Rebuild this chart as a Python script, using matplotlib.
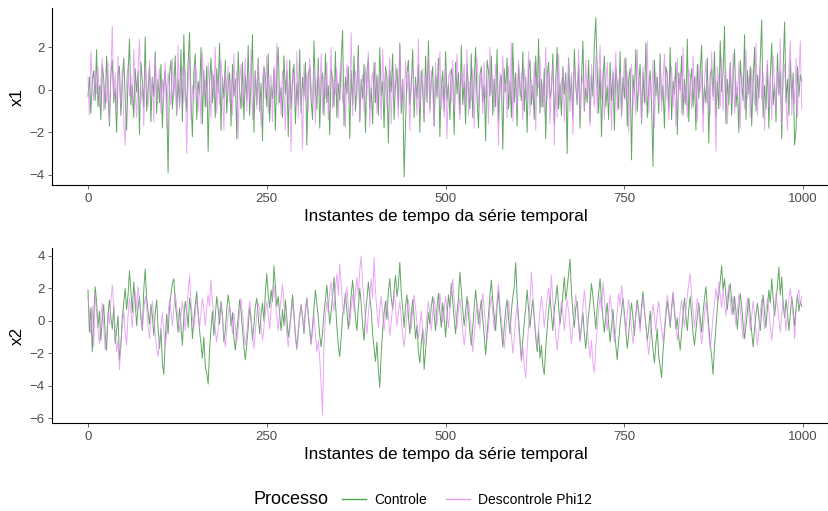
import numpy as np
import matplotlib.pyplot as plt
from matplotlib.lines import Line2D
from matplotlib.offsetbox import HPacker

plt.rcParams['font.family'] = ['Liberation Sans', 'DejaVu Sans']

# valores (um ponto a cada 2 instantes)
x1_controle = [
    -0.3, 0.6, -1.1, 0.4, 0.9, -0.5, 1.9, -0.8, 0.2, -1.4, 1.2, 0.5, -0.9, 1.6, -0.2, -1.7, 0.8, 1.4, -0.6, 0.1, -2.0, 0.7, 1.1, -1.2, 0.3,
    1.5, -0.4, -1.9, 0.6, 2.4, -0.7, 0.2, -1.3, 1.0, -0.1, 0.9, -2.1, 1.3, 0.4, -0.8, 2.5, -1.0, 0.0, 1.1, -1.5, 0.6, -0.3, 1.8, -1.1, 0.5,
    -0.6, 1.2, -1.8, 0.3, 0.9, -0.4, -3.9, 0.7, 1.4, -0.9, 0.2, 1.6, -1.2, 0.5, -0.7, 1.9, -1.5, 2.6, 0.1, -1.0, 1.3, 2.7, -0.5, -2.2, 0.8,
    1.7, -1.4, 0.4, -0.2, 2.0, -1.6, 0.9, -0.8, 1.1, -2.9, 0.3, 1.5, -0.6, 0.7, -1.3, 1.0, -0.1, 2.2, -1.9, 0.6, -0.4, 1.4, -1.1, 0.2, 0.8,
    -1.7, 1.2, -0.3, 0.5, -2.3, 1.8, 0.0, -0.9, 1.3, -1.4, 0.7, -0.5, 2.1, -1.2, 0.4, 2.6, -2.0, 0.9, -0.7, 1.5, -1.0, 0.3, -2.4, 1.1, 0.6,
    -0.8, 1.7, -1.5, 0.2, -0.4, 1.0, -1.9, 0.8, 2.0, -0.6, 0.1, -1.3, 1.6, -0.2, 0.9, -2.2, 1.4, -0.9, 0.5, 1.2, -1.6, 0.3, -0.7, 1.9, -1.1,
    0.6, -0.3, 1.3, -2.6, 0.7, 1.1, -0.5, -1.4, 2.3, 0.0, -0.9, 1.5, -1.8, 0.4, 0.8, -1.2, 1.7, -0.6, 0.2, -2.1, 1.0, 0.5, -0.8, 1.8, -1.3,
    0.3, -0.5, 1.4, 2.8, -1.7, 0.6, -0.2, 1.1, -2.3, 0.9, -0.7, 1.6, -1.0, 0.2, 2.1, -1.5, 0.5, -0.4, 1.2, -2.0, 0.8, 1.5, -0.9, 0.1, -1.6,
    1.3, -0.6, 0.7, -1.2, 2.0, -0.3, 0.4, -1.8, 1.1, 0.6, -2.5, 0.9, -0.1, 1.7, -1.4, 0.3, 1.0, -0.8, 2.2, -1.1, 0.5, -4.1, -1.6, 0.8, 1.4,
    -0.7, 0.2, 1.9, -1.3, 0.6, -0.4, 1.2, -2.0, 0.9, 0.0, -1.5, 1.6, -0.6, 2.3, -0.9, 0.4, 1.1, -1.7, 0.7, -0.3, 1.5, -2.2, 0.1, 0.9, -1.0,
    1.8, -0.5, 0.3, -1.4, 1.0, 0.6, -2.1, 1.3, -0.2, 0.8, -1.1, 2.1, -0.7, 0.4, -1.6, 1.2, 0.0, -0.9, 1.7, -1.3, 0.5, 2.0, -0.4, -1.8, 0.7,
    1.1, -0.6, 0.2, -2.4, 1.4, 0.9, -0.3, 1.6, -1.2, 0.5, -0.8, 1.9, -1.5, 0.3, 0.7, -2.8, 1.0, -0.1, 1.5, -0.9, 0.4, -1.3, 2.2, -0.6, 0.8,
    -1.7, 1.2, 0.1, -0.5, 1.8, -1.0, 0.6, -2.0, 0.9, 1.4, -0.7, 0.2, -1.4, 1.6, -0.3, 2.4, -1.1, 0.5, -0.8, 1.0, -2.3, 0.7, 1.3, -0.4, 0.0,
    1.7, -1.6, 0.4, 2.0, -0.9, 0.3, -1.2, 1.1, -0.2, 0.8, -3.0, 1.5, -0.5, 0.6, -1.3, 1.9, 0.2, -0.7, 1.2, -1.8, 0.5, 2.3, -1.0, 0.1, -0.6,
    1.4, -1.5, 0.7, -0.3, 2.1, 3.4, 0.9, -1.1, 1.0, -2.2, 0.4, 1.6, -0.8, 0.2, -1.4, 1.3, -0.5, 0.8, -1.9, 1.1, 0.3, -0.9, 1.8, -1.2, 0.6,
    -0.4, 1.5, -1.7, 0.5, 1.0, -3.3, 0.7, -0.2, 1.9, -1.0, 0.3, 1.2, -1.6, 0.8, -0.6, 2.2, -1.3, 0.1, 0.9, -0.7, -3.6, 1.4, -0.3, 0.6, -1.1,
    1.7, -0.5, 0.2, -1.8, 1.1, 0.7, -0.9, 2.0, -1.4, 0.4, -0.2, 1.3, -2.1, 0.8, 0.0, 1.6, -1.2, 0.5, -0.7, 2.4, -1.5, 0.3, 1.0, -0.8, 0.6,
    -1.9, 1.2, -0.4, 0.9, 2.1, -1.1, 0.2, -0.6, 1.5, -2.5, 0.7, 1.0, -0.3, 1.8, -1.3, 0.4, -0.9, 2.3, -0.1, 0.8, 3.0, -1.6, 0.5, -0.7, 1.3,
    -1.2, 0.6, 1.9, -0.8, 0.1, -2.0, 1.4, 0.3, -0.5, 2.6, -1.4, 0.9, -0.2, 1.1, -1.7, 0.4, 2.0, -1.0, 0.7, -0.4, 1.5, 3.3, -1.3, 0.2, -0.9,
    1.2, -1.8, 0.6, 2.2, -0.7, 0.3, -1.5, 1.7, -0.2, 0.9, -2.3, 1.0, 3.2, -0.6, 0.5, -1.2, 1.4, -0.4, 0.8, -2.6, -1.9, 1.1, -0.3, 0.7, 0.4,
]

x1_descontrole = [
    0.6, -1.2, 1.8, 0.3, -0.5, 0.9, -0.2, 1.1, -0.8, 0.4, 1.5, -1.0, 0.2, -0.6, 1.3, -1.5, 0.7, 3.0, -0.4, 0.8, -1.1, 1.6, 0.1, -0.7, 1.0,
    -1.4, -2.6, 0.5, 1.2, -0.3, 0.7, -0.9, 1.9, 0.0, -1.3, 0.9, 2.4, -0.6, 0.3, -1.7, 1.1, 0.4, -0.8, 1.4, -0.2, 0.6, -1.5, 1.7, -0.5, 0.2,
    1.0, -1.1, 0.5, -0.4, 1.3, -1.8, 0.8, 0.1, -0.7, 1.5, -0.3, 0.6, -1.2, 2.1, -0.9, 0.3, 1.1, -0.6, 0.9, -3.0, 0.4, 1.6, -1.4, 0.2, -0.5,
    1.2, 0.7, -1.0, 0.4, -1.6, 1.8, -0.2, 0.5, -0.8, 1.3, 0.1, -1.3, 0.9, -0.4, 2.0, -1.1, 0.6, -0.7, 1.4, 0.3, -1.9, 0.8, -0.1, 1.1, -0.6,
    0.5, -1.2, 1.7, -0.3, 0.9, -2.3, 0.4, 1.2, -0.8, 0.2, 1.5, -1.0, 0.7, -0.5, 1.9, -1.4, 0.3, 0.8, -0.9, 1.3, -0.2, -1.7, 0.6, 1.0, -0.4,
    1.6, -1.1, 0.2, 0.7, -1.5, 1.1, -0.3, 2.2, -0.7, 0.4, -1.2, 0.9, 0.0, -1.9, 1.4, -0.6, 0.5, -2.9, 1.0, 0.3, -0.8, 1.8, -1.3, 0.6, -0.1,
    -2.8, 1.2, -0.5, 0.8, -1.0, 1.5, 0.2, -0.7, 1.1, -1.6, 0.4, 0.9, -0.3, 1.7, -1.1, 0.6, -0.4, 1.3, -1.4, 0.1, 2.0, -0.9, 0.5, -0.2, 1.0,
    -1.3, 0.7, 1.4, -0.6, 0.3, -1.8, 1.2, 0.0, -0.8, 2.7, -1.2, 0.5, 0.9, -0.4, 1.6, -1.5, 0.2, 0.7, -1.0, 1.1, -0.3, 1.8, -1.7, 0.4, 0.8,
    -0.6, 1.3, -1.1, 0.6, 0.1, -1.4, 1.9, -0.2, 0.9, -0.9, 0.3, 1.5, -1.6, 0.7, -0.4, 1.2, 0.2, -1.3, 2.1, -0.7, 0.5, -1.0, 1.4, -0.1, 0.8,
    -1.9, 0.6, 1.1, -0.5, 0.3, -1.2, 2.4, -0.8, 0.4, 1.0, -1.5, 0.7, -0.2, 1.6, -1.1, 0.9, 0.0, -1.7, 1.3, -0.4, 0.5, 1.8, -0.9, 0.2, -1.3,
    1.1, -2.3, 0.6, 0.9, -0.6, 1.4, -1.0, 0.3, 1.7, -0.3, -1.4, 0.8, 0.1, 1.2, -0.7, 1.9, -1.2, 0.4, -0.5, 1.0, -1.8, 0.6, 1.5, -0.8, 0.2,
    0.9, -1.1, 1.3, -0.4, 0.5, -1.6, 2.0, -0.2, 0.7, -1.0, 1.2, 0.3, -2.6, 0.8, -0.6, 1.6, -0.1, 0.4, -1.3, 1.1, -0.7, 2.2, -1.5, 0.6, 0.0,
    -0.9, 1.4, -0.3, 0.8, -1.4, 1.0, 0.2, -0.6, 1.8, -1.2, 0.5, -0.4, 1.3, -1.9, 0.7, 0.1, 1.6, -0.8, 0.3, -1.1, 2.0, -0.5, 0.9, -1.6, 0.4,
    1.2, -2.6, 0.6, -1.3, 1.7, -0.7, 0.3, 1.0, -1.5, 0.5, -0.1, 1.5, -1.0, 0.8, -2.1, 1.1, 0.4, -0.6, 1.9, -1.2, 0.2, 0.7, -0.9, 1.4, -0.3,
    0.6, -1.7, 1.2, 0.0, -0.8, 1.6, -1.1, 0.5, 2.1, -0.4, 0.9, -1.4, 0.3, 1.3, -0.6, 0.7, -1.9, 1.0, -0.2, 1.8, -1.0, 0.4, 0.8, -1.3, 0.1,
    1.5, -0.5, 0.9, -2.0, 0.6, 1.2, -0.9, 0.3, -1.2, 1.9, -0.3, 0.7, -1.5, 1.1, 0.2, -0.7, 2.3, -1.1, 0.5, -0.4, 1.4, -1.8, 0.8, 0.0, -0.6,
    1.3, -1.0, 0.4, 1.7, -0.5, 0.9, -1.4, 0.2, 1.1, -0.8, 0.6, -1.7, 1.5, -0.2, 0.8, -1.1, 2.0, -0.6, 0.3, -1.3, 1.0, 0.5, -0.9, 1.6, -0.4,
    0.7, -1.5, 1.2, -0.1, 0.9, -2.0, 0.4, 1.4, -0.7, 0.2, -1.2, 1.8, -0.5, 0.6, -2.9, 1.1, 0.3, -0.8, 1.5, -1.0, 0.5, 0.9, -1.6, 0.1, 1.2,
    -0.6, 1.7, -1.1, 0.4, -0.3, 1.3, -1.8, 0.8, 0.2, -0.9, 1.9, -0.4, 0.6, -1.3, 1.0, 0.0, -0.7, 2.2, -1.2, 0.5, 1.1, -0.5, 0.8, -1.9, 0.3,
    1.4, -0.8, 0.6, -1.4, 1.6, 0.1, -1.0, 0.9, -0.3, 2.4, -1.6, 0.7, 1.2, -0.6, -1.9, 0.9, 2.3, -1.2, 0.4, -0.7, 1.5, -1.3, 0.6, 2.3, -0.9,
]

x2_controle = [
    1.9, -0.7, 0.8, -1.9, 0.3, 2.1, 1.2, -0.4, 0.6, -1.2, 0.1, 1.0, -0.8, -1.8, 0.4, 1.3, 0.2, -0.5, 0.9, -1.4, -0.6, 0.3, -2.4, -1.5, 0.2,
    1.1, 2.0, 0.7, 1.6, 3.1, 1.8, 0.5, 2.4, 1.2, -0.3, 0.8, 1.5, 0.2, -0.6, 1.9, 3.2, 1.4, 0.6, -0.2, 1.0, 0.3, -0.9, 0.5, 1.3, -0.4,
    -1.7, -0.5, -2.6, -3.3, -1.2, 0.4, -0.8, 0.9, 1.6, 2.3, 2.6, 1.1, 0.3, -0.7, 0.8, -0.3, -1.5, 0.2, 1.2, 0.6, -0.4, 1.4, 0.7, -1.1, 0.1,
    1.0, 1.8, 0.5, -0.6, -1.4, -2.3, -1.0, -2.8, -3.2, -3.9, -1.8, -0.5, 0.6, -0.9, 0.3, 1.5, 0.8, -0.2, 1.2, 0.4, -1.3, -0.6, 0.7, 1.6, 0.9,
    -0.3, 0.5, -1.1, -1.8, -0.7, 0.2, 1.3, 0.6, -0.5, -1.6, -2.4, -1.5, -0.4, 0.8, 0.1, -1.2, -0.3, 0.9, 1.4, 0.3, -0.8, 0.4, 1.1, 0.0, 1.7,
    2.9, 1.6, 0.8, 1.9, 1.2, 3.4, 2.1, 0.9, 1.5, 0.4, -0.6, 0.7, -0.3, 1.3, 0.2, -1.0, -0.4, 0.6, 1.6, 0.5, -0.9, -1.7, -0.6, 0.3, 1.0,
    0.2, -0.8, 0.7, 1.4, 0.4, -0.5, -1.4, -0.3, 0.8, 1.9, 1.1, 0.2, -0.9, -1.6, -0.7, 0.5, 1.3, 2.2, 1.0, -0.2, 0.6, 1.5, 2.7, 1.2, -0.4,
    -1.5, -2.2, -1.0, 0.3, 0.9, 1.7, 0.6, -0.5, 0.4, 1.6, 2.5, 1.4, 0.2, -0.6, 0.8, 2.0, 1.1, -0.3, -1.2, 0.4, 1.3, 2.4, 1.5, 0.7, -0.8,
    -1.7, -2.5, -1.3, -3.0, -4.1, -2.0, -0.6, 0.5, 1.2, 0.1, 1.8, 2.6, 1.4, 0.7, 1.9, 2.8, 1.5, 2.2, 3.6, 1.7, 0.8, -0.4, 0.9, 1.6, 0.3,
    -0.8, 0.4, 1.3, 0.2, -1.1, -0.3, -1.9, -2.6, -1.4, -0.5, -3.0, -1.8, -0.7, 0.5, -0.2, 0.9, 1.5, 0.4, -0.6, 0.8, 1.7, 0.6, -0.4, 1.1, 0.2,
    -1.0, 0.3, 1.6, 0.8, 2.3, 1.2, 0.1, -0.8, 0.5, 1.4, 3.0, 1.9, 0.7, -0.3, 0.6, 1.5, 0.4, -0.7, -1.5, -0.4, 0.8, 1.9, 0.9, -0.2, 0.6,
    1.3, 0.1, -0.9, -2.1, -0.8, 0.4, 1.6, 2.5, 1.2, 0.3, -0.6, 0.9, 1.8, 0.5, -0.5, -1.6, -0.4, 0.7, 1.3, 0.2, -0.8, 0.6, 1.5, 2.1, 3.6,
    1.4, 0.2, -1.1, -2.4, -1.2, -0.1, 0.8, 1.9, 0.7, -0.4, 0.5, 1.3, 0.1, -1.0, -1.9, -0.6, -2.3, -1.5, -2.8, -3.3, -1.7, -0.5, 0.6, 1.5, 0.4,
    -0.6, 0.7, 1.4, 2.2, 0.9, -0.2, 0.6, 1.6, 2.7, 1.3, 2.0, 2.9, 3.8, 1.8, 0.5, -0.4, 0.8, 1.2, -0.1, -1.2, -0.3, 0.5, -0.8, -1.7, -0.6,
    0.4, 1.2, 2.3, 1.5, 0.6, -0.5, 0.8, 1.7, 2.6, 1.3, 0.2, -0.7, 0.3, 1.1, -0.2, -1.3, -0.4, 0.7, -0.6, -1.5, -2.4, -1.2, -0.2, 0.6, 1.4,
    0.5, -0.6, -1.7, -0.8, 0.3, 1.1, 0.2, -0.9, 0.4, 1.3, 0.6, -0.4, 0.9, 1.8, 0.7, -0.3, -1.2, -0.5, 0.6, -0.7, -1.8, -2.6, -1.4, -0.5, -2.2,
    -2.8, -3.5, -1.9, -0.8, 0.3, 1.2, 0.5, -0.4, 0.8, 1.7, 0.6, -0.5, 0.2, -1.0, -1.8, -0.7, 0.4, 1.4, 0.3, -0.6, 0.7, 1.5, 0.4, -0.8, -1.5,
    -0.6, 0.3, 1.1, 0.2, -0.7, 0.5, 1.4, 2.1, 0.8, -0.3, -1.4, -2.2, -3.3, -1.6, -0.4, 0.9, 1.6, 2.4, 3.4, 1.9, 2.6, 1.5, 0.7, 1.8, 2.3,
    1.2, 0.4, 1.5, 0.6, -0.5, 0.8, 1.7, 0.9, -0.2, -1.1, -0.3, 0.6, 1.4, 0.3, -0.7, -1.6, -0.5, 0.4, 1.1, 0.2, -0.6, 0.7, 1.6, 0.5, -0.4,
    0.8, 1.9, 1.1, 2.6, 1.4, 0.3, 1.2, 2.2, 3.3, 1.6, 2.7, 1.0, 0.2, 1.3, 0.5, -0.6, 0.4, 1.5, 0.7, -0.3, 0.8, 1.6, 0.6, 1.2, 0.9,
]

x2_descontrole = [
    1.5, 0.4, -0.8, 0.9, -1.6, 1.7, 0.6, -0.5, -1.4, 0.2, 1.1, -0.3, -1.8, -0.9, 0.5, -0.2, 1.2, 2.2, 0.8, -0.6, -1.9, -1.2, -3.0, -1.3, -0.4,
    0.6, -0.7, -1.5, 0.3, 1.4, 0.5, -0.4, 0.9, 1.8, 0.7, 2.1, 1.3, 0.4, -0.5, 0.6, 1.5, 0.8, -0.3, -1.1, 0.2, 1.2, 0.3, -0.8, -1.7, -2.2,
    -1.3, -0.4, 0.5, -0.6, -1.6, -0.7, 0.4, 1.3, 0.6, -0.3, 0.8, 1.7, 0.9, 0.1, -0.7, 0.3, 1.2, 0.4, -0.6, 0.7, 1.8, 2.8, 1.1, 0.2, -0.5,
    0.4, 1.3, 0.6, -0.4, 0.5, 1.4, 0.7, -0.3, 0.8, 1.6, 0.9, 2.5, 1.2, 0.3, -0.6, -1.3, -0.5, 0.6, 1.1, 0.2, -0.9, -1.6, -0.6, 0.4, 1.0,
    0.1, -0.8, 0.5, -0.4, -1.3, -0.5, 0.6, 1.4, 0.5, -0.6, -1.5, -0.8, 0.3, 1.2, 0.2, -0.9, -1.7, -0.6, 0.4, 1.1, 0.7, -0.3, -1.2, -0.4, 0.5,
    1.2, 0.4, -0.5, 0.7, 1.6, 2.2, 1.1, 0.3, -0.6, 0.5, 1.4, 2.3, 1.0, 0.2, -0.8, -1.6, -0.7, 0.3, 1.1, 0.2, -0.9, -1.8, -0.9, 0.2, 1.0,
    0.3, -0.6, 0.5, 1.3, 0.4, -0.7, -1.5, -0.6, 0.4, -0.9, -1.9, -1.2, -2.3, -3.9, -5.8, -1.4, 0.3, 1.2, 0.5, 1.8, 2.4, 1.3, 0.6, 2.0, 2.9,
    1.6, 3.5, 2.2, 1.0, 0.4, 1.3, 2.1, 0.9, -0.3, 0.8, 1.6, 0.6, 1.9, 2.7, 1.5, 3.1, 4.0, 2.3, 1.2, 0.1, -0.8, 0.4, 1.5, 2.6, 1.4,
    3.9, 1.8, 0.6, -0.4, 0.7, 1.5, 0.5, -0.6, 0.4, 1.3, 0.3, -0.9, -0.1, 0.9, 1.8, 0.8, -0.3, 0.5, 1.2, 0.2, -0.8, -1.6, -0.7, 0.4, 1.3,
    0.6, -0.5, 0.7, 1.6, 0.8, -0.2, -1.1, -0.4, 0.6, -0.5, -1.5, -0.6, 0.3, 1.2, 0.4, -0.6, 0.5, 1.4, 0.6, -0.3, 0.8, 1.7, 0.9, -0.1, 0.6,
    1.5, 0.5, -0.4, 0.6, 1.8, 2.6, 1.3, 0.3, -0.5, 0.7, 1.4, 0.4, -0.7, -1.5, -0.6, 0.5, 1.2, 0.3, -0.8, -1.9, -0.9, 0.2, 1.1, 0.4, -0.5,
    0.6, 1.7, 0.8, -0.3, -1.2, -0.4, 0.7, 1.5, 0.5, -0.6, 0.3, 1.3, 2.3, 1.0, 0.1, -0.8, -1.7, -0.7, 0.4, 1.2, 0.3, -0.9, -2.0, -1.1, 0.2,
    1.0, -0.3, -1.4, -2.5, -1.6, -2.8, -3.5, -1.7, -0.4, 1.1, 3.0, 1.6, 0.4, -0.8, -1.7, -0.5, 0.6, 1.5, 0.7, -0.4, 0.5, 1.4, 2.0, 1.1, 2.8,
    1.2, 0.2, -0.9, -1.8, -0.8, 0.3, 1.2, 0.5, -0.6, 0.4, 1.3, 0.6, -0.5, -1.4, -0.4, 0.7, 1.6, 0.8, -0.2, -1.3, -0.3, 0.8, 1.9, 0.9, -0.4,
    -1.5, -2.3, -1.2, -2.6, -3.2, -1.6, -0.5, 0.6, 1.5, 0.7, 2.4, 1.3, 0.3, -0.6, 0.5, 1.6, 0.8, -0.4, -1.3, -0.5, 0.6, 1.7, 0.9, 2.2, 1.2,
    0.2, -0.8, 0.4, 1.3, 0.5, -0.5, -1.4, -0.6, 0.4, 1.1, 0.3, -0.7, 0.6, 1.5, 0.7, -0.3, -1.2, -2.1, -1.0, 0.2, 1.0, 0.3, -0.6, 0.5, 1.2,
    0.4, -0.5, -1.3, -0.4, 0.7, 1.6, 0.8, -0.2, 0.6, 1.8, 0.9, -0.3, -1.2, -0.5, 0.6, 1.3, 0.5, -0.4, 0.7, 1.6, 2.3, 2.9, 1.5, 0.6, -0.4,
    0.5, 1.4, 0.6, -0.5, -1.4, -0.6, 0.4, 1.2, 0.3, -0.8, -1.7, -0.8, 0.3, 1.1, 2.0, 1.2, 2.4, 1.6, 0.8, 1.9, 1.1, 0.3, 1.4, 2.2, 1.2,
    0.4, 1.5, 0.7, -0.3, 0.6, 1.6, 0.8, -0.2, -1.1, -0.3, 0.7, 1.4, 0.5, -0.6, 0.3, 1.2, 0.4, -0.7, -1.5, -0.6, 0.5, 1.3, 0.4, -0.5, 0.6,
    1.4, 0.6, -0.4, -1.2, -0.3, 0.8, 1.7, 0.9, 0.1, -0.7, 0.4, 1.3, 0.5, -0.6, 0.5, 1.4, 2.0, 1.1, 0.3, -1.1, 0.6, 1.6, 1.9, 1.0, 1.5,
]

xticks = [0, 250, 500, 750, 1000]
cor_controle = '#2e8b2e'
cor_descontrole = '#e38af5'
cinza = '#4d4d4d'


def painel(ax, y_ctrl, y_desc, nome, yticks):
    t_c = np.arange(len(y_ctrl)) * 2
    t_d = np.arange(len(y_desc)) * 2
    ax.plot(t_c, y_ctrl, color=cor_controle, lw=0.7, alpha=0.75)
    ax.plot(t_d, y_desc, color=cor_descontrole, lw=0.7, alpha=0.75)
    ax.set_xlim(-50, 1050)
    ax.set_xticks(xticks)
    ax.set_yticks(yticks)
    ax.set_xlabel('Instantes de tempo da série temporal', fontsize=12.3, color='black', labelpad=3)
    ax.set_ylabel(nome, fontsize=12.3, color='black', labelpad=3)
    ax.tick_params(colors=cinza, labelsize=9.5, length=3, width=0.6, pad=2.5)
    for s in ['top', 'right']:
        ax.spines[s].set_visible(False)
    for s in ['left', 'bottom']:
        ax.spines[s].set_linewidth(0.8)
        ax.spines[s].set_color('black')


fig = plt.figure(figsize=(8.29, 5.11), dpi=100)
# o painel passa da borda direita, como na figura original
ax1 = fig.add_axes([0.063, 0.638, 0.949, 0.346])
ax2 = fig.add_axes([0.063, 0.172, 0.949, 0.343])

painel(ax1, x1_controle, x1_descontrole, 'x1', [-4, -2, 0, 2])
ax1.set_ylim(-4.48, 3.85)
painel(ax2, x2_controle, x2_descontrole, 'x2', [-6, -4, -2, 0, 2, 4])
ax2.set_ylim(-6.3, 4.5)

handles = [
    Line2D([0], [0], color='#4ca64c', lw=1.0),
    Line2D([0], [0], color='#eb9bf5', lw=1.0),
]
leg = fig.legend(handles, ['Controle', 'Descontrole Phi12'], title='Processo',
                 loc='center', bbox_to_anchor=(0.51, 0.022), ncol=2, frameon=False,
                 fontsize=10, title_fontsize=13, handlelength=1.7, columnspacing=1.4,
                 handletextpad=0.6)
# titulo ao lado das chaves, como no ggplot
box = leg._legend_box
box.__class__ = HPacker
box.sep = 10
box.align = 'center'

fig.savefig('out.png', dpi=100)
